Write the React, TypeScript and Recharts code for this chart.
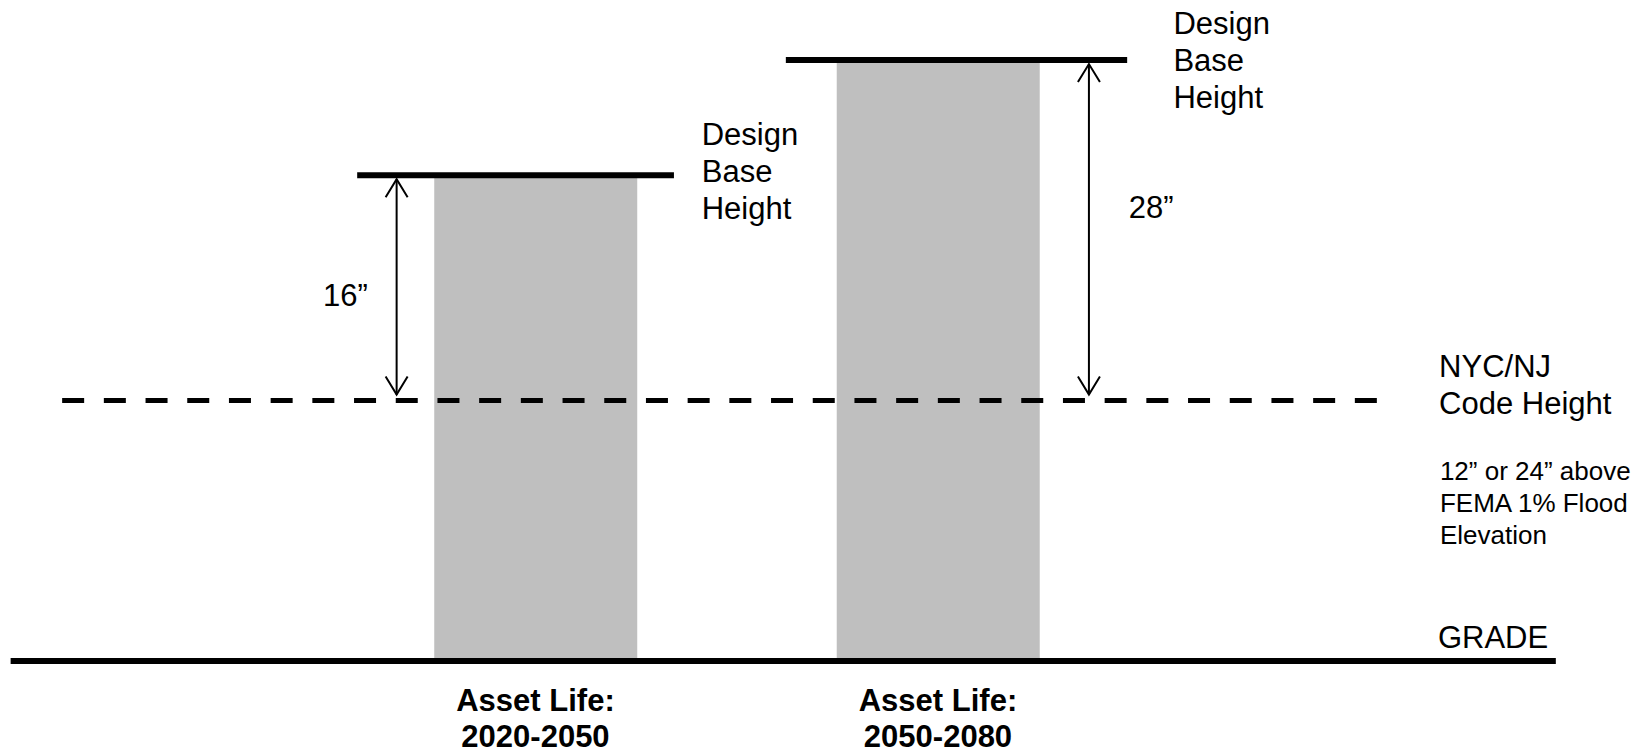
import { Bar, ComposedChart, ReferenceDot, ReferenceLine, XAxis, YAxis } from 'recharts'

const FONT = 'Arial, "Liberation Sans", Helvetica, sans-serif'

// asset life periods, placed at x = 1 and x = 2
const periodX = [1, 2]
const periodLabels = ['2020-2050', '2050-2080']
// design base height above grade (drawing units)
const designHeight = [48.5, 60]
const freeboardLabels = ['16\u201d', '28\u201d']
// NYC/NJ code height above grade (drawing units)
const codeHeight = 26

// extents of the horizontal lines, in x units
const gradeSpan = [-0.304, 3.535]
const codeSpan = [-0.176, 3.091]
const designSpans = [
  [0.557, 1.344],
  [1.622, 2.47],
]
const arrowX = [0.655, 2.375]

const chartData = periodX.map((x, i) => ({ x, design: designHeight[i] }))

type Note = { x: number; y: number; lines: string[]; size?: number; lh?: number }

const notes: Note[] = [
  { x: 1.413, y: 51.5, lines: ['Design', 'Base', 'Height'] },
  { x: 2.585, y: 62.6, lines: ['Design', 'Base', 'Height'] },
  { x: 0.472, y: 35.4, lines: [freeboardLabels[0]] },
  { x: 2.474, y: 44.2, lines: [freeboardLabels[1]] },
  { x: 3.245, y: 28.4, lines: ['NYC/NJ', 'Code Height'] },
  {
    x: 3.247,
    y: 18.1,
    lines: ['12\u201d or 24\u201d above', 'FEMA 1% Flood', 'Elevation'],
    size: 26,
    lh: 32,
  },
  { x: 3.242, y: 1.3, lines: ['GRADE'] },
]

function PeriodTick(props: any) {
  const { x, y, payload } = props
  const i = periodX.indexOf(Number(payload.value))
  return (
    <text x={x} y={y} textAnchor="middle" fontFamily={FONT} fontWeight="bold" fontSize={31} fill="#000">
      <tspan x={x} dy={50}>
        Asset Life:
      </tspan>
      <tspan x={x} dy={36}>
        {periodLabels[i]}
      </tspan>
    </text>
  )
}

// double-headed arrow between code height and design height
function arrowShape(p: any) {
  const { x1, y1, y2 } = p
  const top = Math.min(y1, y2) + 4
  const bot = Math.max(y1, y2) - 6
  return (
    <g stroke="#000" strokeWidth={2} fill="none">
      <line x1={x1} y1={top} x2={x1} y2={bot} />
      <polyline points={`${x1 - 11},${top + 18} ${x1},${top} ${x1 + 11},${top + 18}`} />
      <polyline points={`${x1 - 11},${bot - 18} ${x1},${bot} ${x1 + 11},${bot - 18}`} />
    </g>
  )
}

function noteShape(note: Note) {
  const size = note.size ?? 31
  const lh = note.lh ?? 37
  return (p: any) => (
    <text x={p.cx} y={p.cy} fontFamily={FONT} fontSize={size} fill="#000">
      {note.lines.map((l, i) => (
        <tspan key={i} x={p.cx} dy={i === 0 ? 0 : lh}>
          {l}
        </tspan>
      ))}
    </text>
  )
}

export default function App() {
  return (
    <div style={{ position: 'absolute', left: 0, top: 0, width: 1648, height: 753, background: '#fff' }}>
      <ComposedChart
        width={1648}
        height={753}
        data={chartData}
        margin={{ top: 10, right: 0, bottom: 0, left: 0 }}
      >
        <XAxis
          dataKey="x"
          type="number"
          domain={[-0.3304, 3.764]}
          allowDataOverflow
          ticks={periodX}
          tick={<PeriodTick />}
          axisLine={false}
          tickLine={false}
          tickSize={0}
          tickMargin={0}
          height={92}
        />
        <YAxis type="number" domain={[0, 65]} allowDataOverflow hide />
        <Bar dataKey="design" fill="#bfbfbf" barSize={203} isAnimationActive={false} />
        <ReferenceLine
          segment={[
            { x: codeSpan[0], y: codeHeight },
            { x: codeSpan[1], y: codeHeight },
          ]}
          stroke="#000"
          strokeWidth={5}
          strokeDasharray="22 19.7"
          ifOverflow="visible"
        />
        <ReferenceLine
          segment={[
            { x: gradeSpan[0], y: 0 },
            { x: gradeSpan[1], y: 0 },
          ]}
          stroke="#000"
          strokeWidth={6}
          ifOverflow="visible"
        />
        {designSpans.map((s, i) => (
          <ReferenceLine
            key={`d${i}`}
            segment={[
              { x: s[0], y: designHeight[i] },
              { x: s[1], y: designHeight[i] },
            ]}
            stroke="#000"
            strokeWidth={6}
            ifOverflow="visible"
          />
        ))}
        {arrowX.map((ax, i) => (
          <ReferenceLine
            key={`a${i}`}
            segment={[
              { x: ax, y: codeHeight },
              { x: ax, y: designHeight[i] },
            ]}
            stroke="#000"
            ifOverflow="visible"
            shape={arrowShape}
          />
        ))}
        {notes.map((n, i) => (
          <ReferenceDot key={`n${i}`} x={n.x} y={n.y} r={0} ifOverflow="visible" shape={noteShape(n)} />
        ))}
      </ComposedChart>
    </div>
  )
}
